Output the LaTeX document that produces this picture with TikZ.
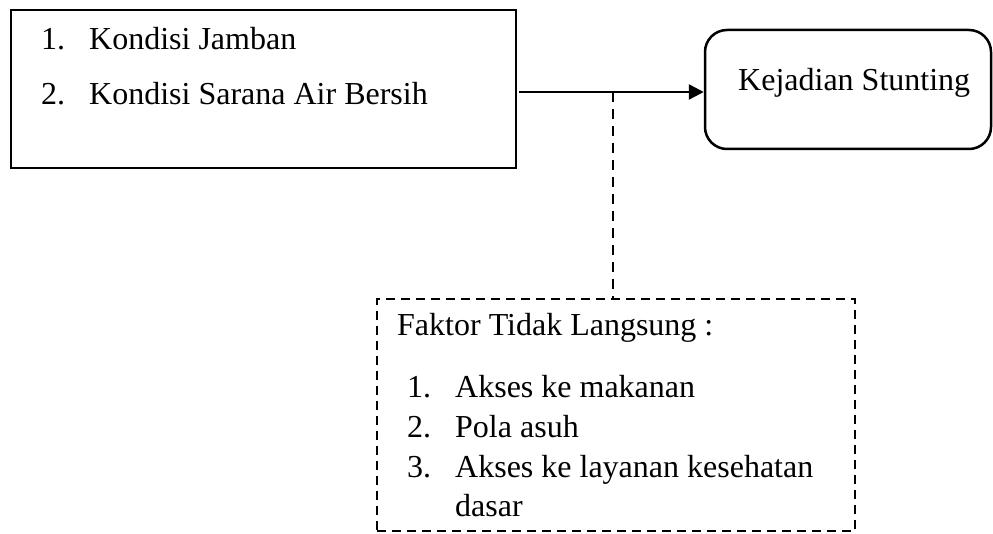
\documentclass[tikz,border=0pt]{standalone}
\usepackage{fontspec}
\setmainfont{Liberation Serif}
\usetikzlibrary{arrows.meta}
\begin{document}
\begin{tikzpicture}[x=1pt,y=-1pt,
  every node/.style={font=\fontsize{32}{36}\selectfont, inner sep=0pt},
  boxsolid/.style={draw, line width=2.5pt, rectangle},
  boxround/.style={draw, line width=2.5pt, rectangle, rounded corners=22pt},
  boxdash/.style={draw, line width=2.5pt, dash pattern=on 9pt off 6pt},
  txt/.style={anchor=base west},
  link/.style={line width=2.5pt, -{Triangle[length=15pt,width=15pt]}},
  dashlink/.style={line width=1.6pt, dash pattern=on 10pt off 7pt}]
\useasboundingbox (0,0) rectangle (993,534);
% boxes
\node[boxsolid, minimum width=505pt, minimum height=158pt] (L) at (263.5,89) {};
\node[boxround, minimum width=286pt, minimum height=119pt] (K) at (848,89.5) {};
\node[boxdash, minimum width=478pt, minimum height=232pt] (D) at (616,415) {};
% left texts
\node[txt] (n1) at (41,50) {1.};
\node[txt] (t1) at (89,50) {Kondisi Jamban};
\node[txt] (n2) at (41,105) {2.};
\node[txt] (t2) at (89,105) {Kondisi Sarana Air Bersih};
% right text
\node[txt] (kt) at (738,91) {Kejadian Stunting};
% dashed box texts
\node[txt] (ft) at (397,336) {Faktor Tidak Langsung :};
\node[txt] (m1) at (407,398) {1.};
\node[txt] (a1) at (455,398) {Akses ke makanan};
\node[txt] (m2) at (407,437) {2.};
\node[txt] (a2) at (455,437) {Pola asuh};
\node[txt] (m3) at (407,477) {3.};
\node[txt] (a3) at (455,477) {Akses ke layanan kesehatan};
\node[txt] (a4) at (455,516) {dasar};
% connectors
\coordinate (s) at (519,92);
\coordinate (j) at (613,92);
\draw[link] (s) -- (K.west |- s);
\draw[dashlink] (j) -- (D.north -| j);
\end{tikzpicture}
\end{document}
